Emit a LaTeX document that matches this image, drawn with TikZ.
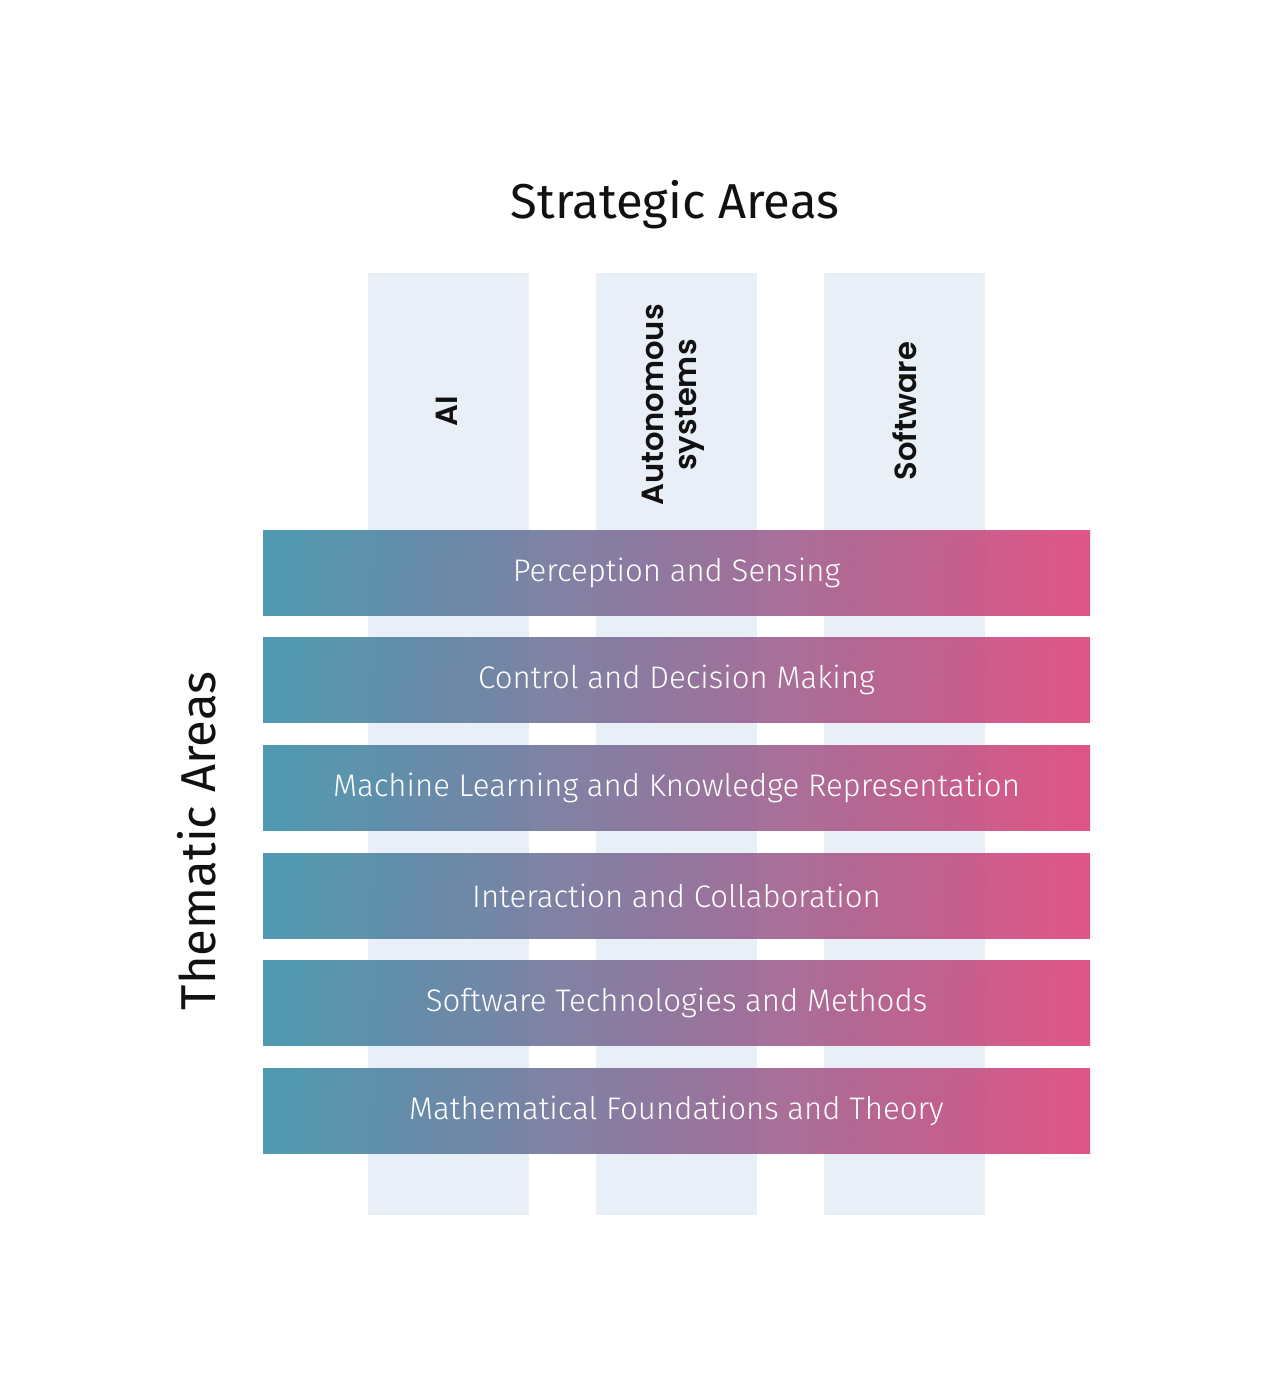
\documentclass[tikz,border=0pt]{standalone}
\usepackage{fontspec}
\setmainfont{Fira Sans}
\newfontfamily\titlefont{Fira Sans}
\newfontfamily\barfont{Fira Sans Light}
\newfontfamily\colfont{Poppins SemiBold}
\definecolor{colbg}{HTML}{E8EFF7}
\definecolor{teal}{HTML}{3E8FA8}
\definecolor{midp}{HTML}{8A6A95}
\definecolor{pink}{HTML}{D9457A}
\definecolor{ink}{HTML}{111111}
\begin{document}
\begin{tikzpicture}[x=0.5pt,y=-0.5pt,
  column/.style={fill=colbg, draw=none, minimum width=80.5pt, minimum height=471pt, inner sep=0pt},
  collabel/.style={rotate=90, font=\colfont\fontsize{15.3}{16.5}\selectfont, text=ink, align=center},
  bar/.style={draw=none, minimum width=413.5pt, minimum height=42.5pt, inner sep=0pt,
    left color=teal, right color=pink, middle color=midp, shading angle=87, fill opacity=0.9, text opacity=1,
    text=white, font=\barfont\fontsize{15.6}{17}\selectfont},
  heading/.style={font=\titlefont\fontsize{24.5}{27}\selectfont, text=ink}]
\useasboundingbox (0,0) rectangle (1275,1400);
\fill[white] (0,0) rectangle (1275,1400);
\node[heading] (strat) at (675,205) {Strategic Areas};
\node[heading, rotate=90] (them) at (197,841) {Thematic Areas};
\node[column] (cAI) at (448.5,744) {};
\node[column] (cAS) at (676.5,744) {};
\node[column] (cSW) at (904.5,744) {};
\node[collabel] (lAI) at (447,411) {AI};
\node[collabel] (lAS) at (673,405) {Autonomous\\systems};
\node[collabel] (lSW) at (905,411) {Software};
\node[bar] (b1) at (676.5,572.5) {Perception and Sensing};
\node[bar] (b2) at (676.5,680) {Control and Decision Making};
\node[bar] (b3) at (676.5,787.5) {Machine Learning and Knowledge Representation};
\node[bar] (b4) at (676.5,895.5) {Interaction and Collaboration};
\node[bar] (b5) at (676.5,1002.5) {Software Technologies and Methods};
\node[bar] (b6) at (676.5,1110.5) {Mathematical Foundations and Theory};
\end{tikzpicture}
\end{document}
